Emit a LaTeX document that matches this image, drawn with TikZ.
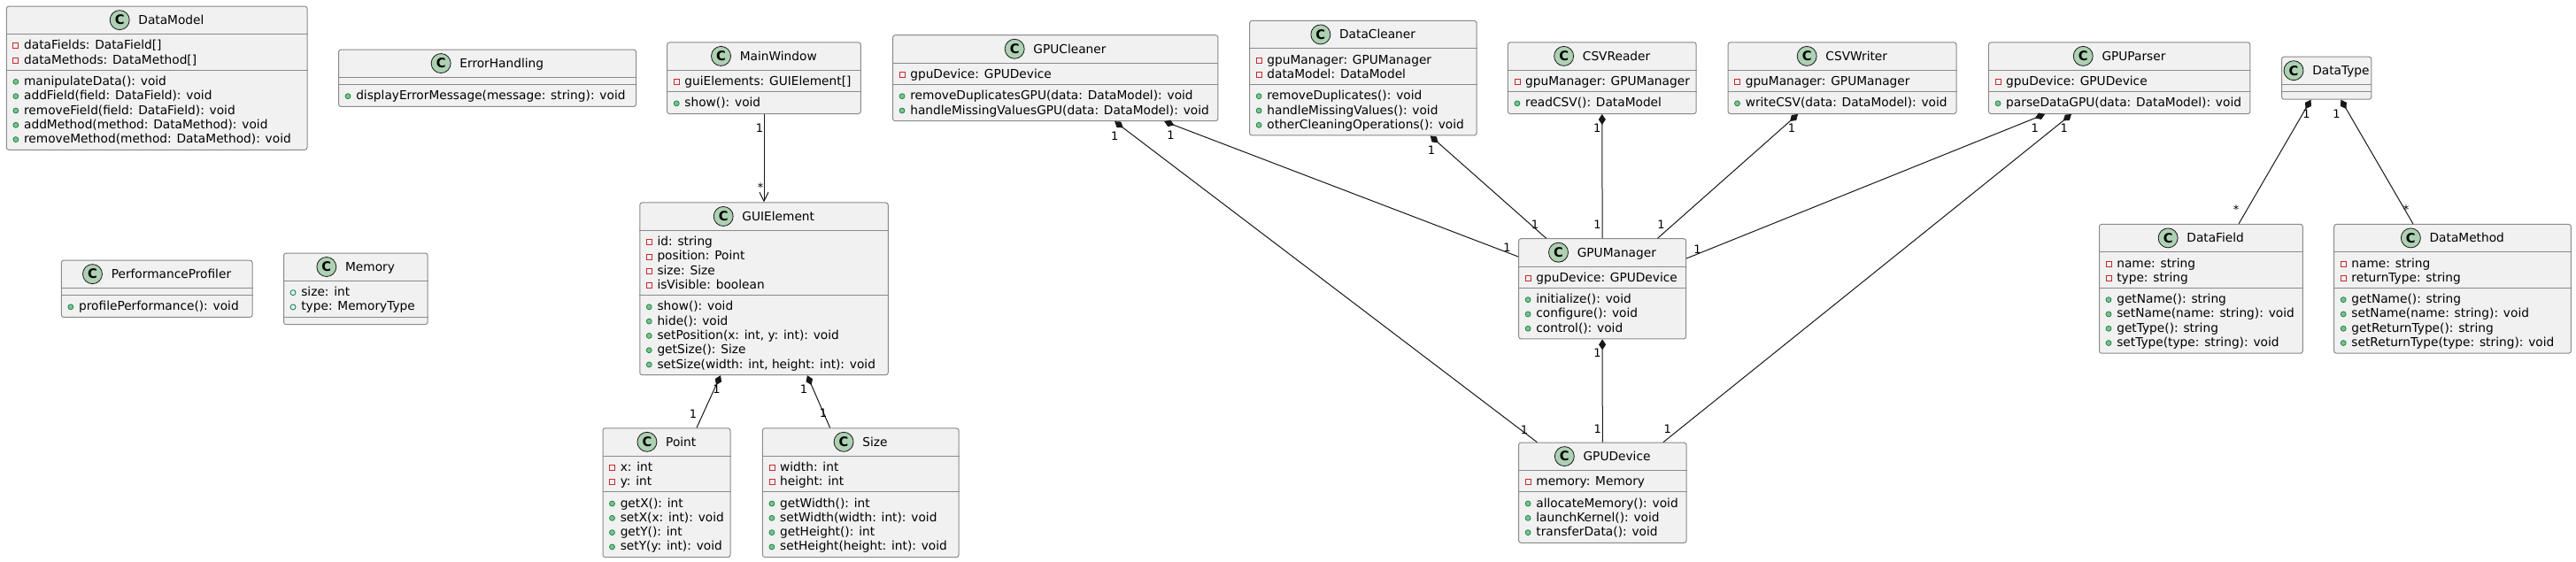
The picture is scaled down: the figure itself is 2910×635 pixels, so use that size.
\documentclass[tikz,border=0pt]{standalone}
\usepackage{fontspec}
\setmainfont{DejaVu Sans}
\usetikzlibrary{arrows.meta,calc}

\definecolor{boxfill}{HTML}{F1F1F1}
\definecolor{boxline}{HTML}{8A8A8A}
\definecolor{spotfill}{HTML}{ADD1B2}
\definecolor{privred}{HTML}{C82930}
\definecolor{pubfill}{HTML}{84BE84}
\definecolor{publine}{HTML}{038048}
\definecolor{edge}{HTML}{181818}

\def\upx{0.75pt}

\tikzset{
  classbox/.style={draw=boxline, fill=boxfill, line width=0.75pt, rounded corners=2pt, inner sep=0pt},
  sepline/.style={draw=boxline, line width=0.75pt},
  member/.style={inner sep=0pt, text height=10pt, text depth=2.5pt, font=\fontsize{10.3}{12}\selectfont},
  spot/.style={circle, draw=edge, fill=spotfill, minimum size=16.5pt, inner sep=0pt, line width=0.6pt, font=\fontsize{11}{12}\bfseries},
  priv/.style={rectangle, draw=privred, line width=0.6pt, minimum size=4.5pt, inner sep=0pt},
  pubm/.style={circle, draw=publine, fill=pubfill, line width=0.5pt, minimum size=4.5pt, inner sep=0pt},
  pubf/.style={circle, draw=publine, line width=0.6pt, minimum size=4.5pt, inner sep=0pt},
  comp/.style={draw=edge, line width=0.75pt, arrows={Diamond[length=9pt,width=6pt]-}},
  assoc/.style={draw=edge, line width=0.75pt, arrows={-Straight Barb[length=7.5pt,width=7.5pt]}},
  lbl/.style={inner sep=0pt, font=\fontsize{9.75}{11}\selectfont}
}

\newcommand{\countlist}[2]{\def\cltmp{#2}\ifx\cltmp\empty\gdef#1{0}\else
  \foreach \vis/\txt [count=\k] in {#2} {\xdef#1{\k}}\fi}

\newcommand{\members}[3]{\def\cltmp{#3}\ifx\cltmp\empty\else
  \foreach \vis/\txt [count=\k] in {#3} {
    \pgfmathsetmacro\ry{#2+4+16.3*(\k-0.5)}
    \node[member, anchor=west] at ($(#1.north west)+(20,\ry)$) {\txt};
    \node[\vis] at ($(#1.north west)+(11,\ry+1)$) {};
  }\fi}

% #1 name, #2 centre, #3 width, #4 title, #5 fields, #6 methods
\newcommand{\umlclass}[6]{%
  \countlist\nfld{#5}\countlist\nmth{#6}%
  \pgfmathsetmacro\secA{8+16.3*\nfld}%
  \pgfmathsetmacro\secM{8+16.3*\nmth}%
  \pgfmathsetmacro\clsh{32+\secA+\secM}%
  \node[classbox, minimum width=#3*\upx, minimum height=\clsh*\upx] (#1) at (#2) {};
  \draw[sepline] ($(#1.north west)+(0,32)$) -- ($(#1.north east)+(0,32)$);
  \draw[sepline] ($(#1.north west)+(0,32+\secA)$) -- ($(#1.north east)+(0,32+\secA)$);
  \node[member] (#1-n) at ($(#1.north)+(16.25,16)$) {#4};
  \node[spot] (#1-c) at ($(#1-n.west)+(-21,0)$) {C};
  \members{#1}{32}{#5}
  \members{#1}{32+\secA}{#6}
}

\begin{document}
\begin{tikzpicture}[x=0.75pt, y=-0.75pt]
  \useasboundingbox[fill=white] (0,0) rectangle (2910,635);

  \umlclass{dmd}{177.2,88.2}{339.7}{DataModel}
    {priv/{dataFields: DataField[]}, priv/{dataMethods: DataMethod[]}}
    {pubm/{manipulateData(): void}, pubm/{addField(field: DataField): void}, pubm/{removeField(field: DataField): void}, pubm/{addMethod(method: DataMethod): void}, pubm/{removeMethod(method: DataMethod): void}}
  \umlclass{erh}{550.5,88.2}{336}{ErrorHandling}{}
    {pubm/{displayErrorMessage(message: string): void}}
  \umlclass{pfp}{177.2,326.3}{215.7}{PerformanceProfiler}{}
    {pubm/{profilePerformance(): void}}
  \umlclass{mem}{401.8,326.3}{162.5}{Memory}
    {pubf/{size: int}, pubf/{type: MemoryType}}{}
  \umlclass{mwn}{863,88.2}{218.6}{MainWindow}
    {priv/{guiElements: GUIElement[]}}{pubm/{show(): void}}
  \umlclass{gui}{863,326.3}{280.5}{GUIElement}
    {priv/{id: string}, priv/{position: Point}, priv/{size: Size}, priv/{isVisible: boolean}}
    {pubm/{show(): void}, pubm/{hide(): void}, pubm/{setPosition(x: int, y: int): void}, pubm/{getSize(): Size}, pubm/{setSize(width: int, height: int): void}}
  \umlclass{pnt}{753,556.7}{144}{Point}
    {priv/{x: int}, priv/{y: int}}
    {pubm/{getX(): int}, pubm/{setX(x: int): void}, pubm/{getY(): int}, pubm/{setY(y: int): void}}
  \umlclass{siz}{972.2,556.7}{221.6}{Size}
    {priv/{width: int}, priv/{height: int}}
    {pubm/{getWidth(): int}, pubm/{setWidth(width: int): void}, pubm/{getHeight(): int}, pubm/{setHeight(height: int): void}}
  \umlclass{gcl}{1192.2,88.2}{367.3}{GPUCleaner}
    {priv/{gpuDevice: GPUDevice}}
    {pubm/{removeDuplicatesGPU(data: DataModel): void}, pubm/{handleMissingValuesGPU(data: DataModel): void}}
  \umlclass{dcl}{1539.8,88.2}{256.4}{DataCleaner}
    {priv/{gpuManager: GPUManager}, priv/{dataModel: DataModel}}
    {pubm/{removeDuplicates(): void}, pubm/{handleMissingValues(): void}, pubm/{otherCleaningOperations(): void}}
  \umlclass{crd}{1809.8,88.2}{212.8}{CSVReader}
    {priv/{gpuManager: GPUManager}}{pubm/{readCSV(): DataModel}}
  \umlclass{cwr}{2081,88.2}{258}{CSVWriter}
    {priv/{gpuManager: GPUManager}}{pubm/{writeCSV(data: DataModel): void}}
  \umlclass{gps}{2394.2,88.2}{295.5}{GPUParser}
    {priv/{gpuDevice: GPUDevice}}{pubm/{parseDataGPU(data: DataModel): void}}
  \umlclass{dty}{2628.2,88.2}{101.3}{DataType}{}{}
  \umlclass{gmg}{1810.1,326.3}{189}{GPUManager}
    {priv/{gpuDevice: GPUDevice}}
    {pubm/{initialize(): void}, pubm/{configure(): void}, pubm/{control(): void}}
  \umlclass{gdv}{1810.3,556.7}{189.4}{GPUDevice}
    {priv/{memory: Memory}}
    {pubm/{allocateMemory(): void}, pubm/{launchKernel(): void}, pubm/{transferData(): void}}
  \umlclass{dfl}{2486.4,326.3}{229.8}{DataField}
    {priv/{name: string}, priv/{type: string}}
    {pubm/{getName(): string}, pubm/{setName(name: string): void}, pubm/{getType(): string}, pubm/{setType(type: string): void}}
  \umlclass{dmt}{2770.5,326.3}{267.6}{DataMethod}
    {priv/{name: string}, priv/{returnType: string}}
    {pubm/{getName(): string}, pubm/{setName(name: string): void}, pubm/{getReturnType(): string}, pubm/{setReturnType(type: string): void}}

  % connectors
  \draw[assoc] (mwn.south) -- (gui.north)
    node[lbl, at start, shift={(-5,16)}] {1} node[lbl, at end, shift={(-4,-17)}] {*};
  \draw[comp] ($(gui.south)+(-49,0)$) -- ($(pnt.north)+(34,0)$)
    node[lbl, at start, shift={(-4.5,16)}] {1} node[lbl, at end, shift={(-4,-16)}] {1};
  \draw[comp] ($(gui.south)+(48.9,0)$) -- ($(siz.north)+(-34.6,0)$)
    node[lbl, at start, shift={(-3.9,16)}] {1} node[lbl, at end, shift={(-7.6,-16.3)}] {1};
  \draw[comp] ($(gcl.south)+(67,0)$) -- ($(gdv.north)+(-74,0)$)
    node[lbl, at start, shift={(0,16.7)}] {1} node[lbl, at end, shift={(-14.4,-14.3)}] {1};
  \draw[comp] ($(gcl.south)+(123,0)$) -- ($(gmg.west)+(0,-36.3)$)
    node[lbl, at start, shift={(7.4,15.7)}] {1} node[lbl, at end, shift={(-12.6,-10)}] {1};
  \draw[comp] ($(dcl.south)+(75.9,0)$) -- ($(gmg.north)+(-63.5,0)$)
    node[lbl, at start, shift={(1.3,16.7)}] {1} node[lbl, at end, shift={(-12.6,-15.3)}] {1};
  \draw[comp] (crd.south) -- (gmg.north)
    node[lbl, at start, shift={(-5.6,16)}] {1} node[lbl, at end, shift={(-5.6,-15.3)}] {1};
  \draw[comp] ($(cwr.south)+(-50,0)$) -- ($(gmg.north)+(62.5,0)$)
    node[lbl, at start, shift={(-7,16)}] {1} node[lbl, at end, shift={(3.9,-15.3)}] {1};
  \draw[comp] ($(gps.south)+(-84.2,0)$) -- ($(gmg.east)+(0,-34.3)$)
    node[lbl, at start, shift={(-11.2,16)}] {1} node[lbl, at end, shift={(12.4,-10)}] {1};
  \draw[comp] ($(gps.south)+(-54.2,0)$) -- ($(gdv.north)+(68.7,0)$)
    node[lbl, at start, shift={(-8.2,16)}] {1} node[lbl, at end, shift={(4.8,-15.3)}] {1};
  \draw[comp] (gmg.south) -- (gdv.north)
    node[lbl, at start, shift={(-5.6,15.7)}] {1} node[lbl, at end, shift={(-5.5,-15.3)}] {1};
  \draw[comp] ($(dty.south)+(-17.7,0)$) -- ($(dfl.north)+(42.6,0)$)
    node[lbl, at start, shift={(-4.9,15.7)}] {1} node[lbl, at end, shift={(-3,-16)}] {*};
  \draw[comp] ($(dty.south)+(16.2,0)$) -- ($(dmt.north)+(-44.6,0)$)
    node[lbl, at start, shift={(-4.8,15.7)}] {1} node[lbl, at end, shift={(-7.9,-16)}] {*};
\end{tikzpicture}
\end{document}
